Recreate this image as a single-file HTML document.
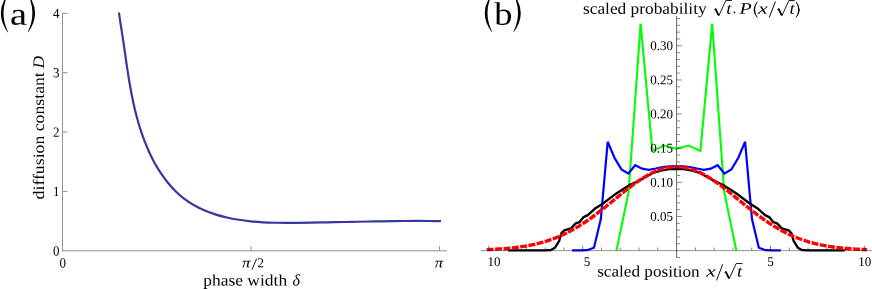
<!DOCTYPE html>
<html><head><meta charset="utf-8"><title>figure</title>
<style>html,body{margin:0;padding:0;background:#fff;}body{width:872px;height:289px;overflow:hidden;font-family:"Liberation Serif",serif;}svg{display:block;will-change:transform;}text{font-family:"Liberation Serif",serif;fill:#000;}.it{font-style:italic;}</style>
</head><body>
<svg width="872" height="289" viewBox="0 0 872 289">
<rect width="872" height="289" fill="#fff"/>
<g stroke="#929292" stroke-width="1" fill="none" shape-rendering="auto">
<path d="M62.50,12.80 V251.30"/>
<path d="M62.00,250.80 H447.00"/>
<path d="M62.50,191.43 h5"/>
<path d="M62.50,132.05 h5"/>
<path d="M62.50,72.68 h5"/>
<path d="M62.50,13.30 h5"/>
<path d="M251.00,250.80 v-4.5"/>
<path d="M439.50,250.80 v-4.5"/>
</g>
<text transform="translate(59.60,255.40) rotate(0.03) scale(1,1.070)" font-size="13" text-anchor="end">0</text>
<text transform="translate(59.60,196.03) rotate(0.03) scale(1,1.070)" font-size="13" text-anchor="end">1</text>
<text transform="translate(59.60,136.65) rotate(0.03) scale(1,1.070)" font-size="13" text-anchor="end">2</text>
<text transform="translate(59.60,77.28) rotate(0.03) scale(1,1.070)" font-size="13" text-anchor="end">3</text>
<text transform="translate(59.60,17.90) rotate(0.03) scale(1,1.070)" font-size="13" text-anchor="end">4</text>
<text transform="translate(62.80,267.40) rotate(0.03) scale(1,1.070)" font-size="13" text-anchor="middle">0</text>
<text transform="rotate(0.03 242.0 267.2)" x="242.0" y="267.2" font-size="14" class="it" textLength="8.4" lengthAdjust="spacingAndGlyphs">π</text>
<path d="M251.9,269.8 L256.6,258.6" stroke="#000" stroke-width="0.9" fill="none"/>
<text transform="rotate(0.03 257.2 267.2)" x="257.2" y="267.2" font-size="13.5">2</text>
<text transform="rotate(0.03 434.8 267.2)" x="434.8" y="267.2" font-size="14" class="it" textLength="8.4" lengthAdjust="spacingAndGlyphs">π</text>
<text transform="rotate(0.03 203.3 285.4)" x="203.3" y="285.4" font-size="16" textLength="83.8" lengthAdjust="spacingAndGlyphs">phase width</text>
<text transform="rotate(0.03 292.6 285.4)" x="292.6" y="285.4" font-size="16" class="it">δ</text>
<g transform="translate(44.0,199.4) rotate(-90)"><text transform="rotate(0.03 0 0)" x="0" y="0" font-size="16" textLength="127.2" lengthAdjust="spacingAndGlyphs">diffusion constant</text><text transform="rotate(0.03 130.8 0)" x="130.8" y="0" font-size="16" class="it" textLength="12.6" lengthAdjust="spacingAndGlyphs">D</text></g>
<path d="M118.50,12.10 C118.79,14.05 119.65,19.95 120.25,23.83 C120.85,27.71 121.49,31.53 122.08,35.41 C122.67,39.29 123.23,43.20 123.80,47.12 C124.37,51.03 124.91,54.97 125.49,58.90 C126.07,62.83 126.65,66.78 127.26,70.72 C127.87,74.66 128.49,78.61 129.17,82.54 C129.85,86.47 130.55,90.41 131.32,94.32 C132.09,98.23 132.90,102.15 133.79,106.03 C134.68,109.91 135.62,113.78 136.66,117.62 C137.70,121.46 138.82,125.28 140.04,129.06 C141.26,132.84 142.56,136.60 143.99,140.31 C145.42,144.02 146.95,147.71 148.61,151.33 C150.27,154.95 152.05,158.56 153.97,162.05 C155.89,165.54 157.93,168.99 160.12,172.29 C162.31,175.59 164.63,178.82 167.10,181.87 C169.57,184.92 172.17,187.86 174.93,190.58 C177.69,193.31 180.60,195.88 183.67,198.22 C186.73,200.56 189.97,202.69 193.32,204.63 C196.67,206.56 200.19,208.28 203.78,209.83 C207.38,211.38 211.11,212.74 214.89,213.95 C218.67,215.16 222.56,216.19 226.47,217.09 C230.38,218.00 234.37,218.74 238.35,219.38 C242.33,220.02 246.38,220.52 250.38,220.94 C254.38,221.36 258.39,221.65 262.38,221.88 C266.37,222.11 270.35,222.24 274.33,222.34 C278.31,222.44 282.27,222.45 286.23,222.46 C290.19,222.47 294.15,222.43 298.10,222.39 C302.05,222.35 306.00,222.30 309.95,222.24 C313.90,222.18 317.84,222.11 321.78,222.04 C325.72,221.97 329.67,221.90 333.61,221.82 C337.55,221.74 341.49,221.66 345.43,221.58 C349.37,221.50 353.31,221.41 357.25,221.33 C361.19,221.25 365.13,221.17 369.08,221.10 C373.03,221.03 376.98,220.95 380.93,220.89 C384.88,220.83 388.84,220.77 392.80,220.73 C396.76,220.69 400.73,220.65 404.70,220.62 C408.67,220.59 412.65,220.57 416.64,220.57 C420.62,220.57 424.61,220.58 428.61,220.61 C432.61,220.64 438.63,220.73 440.63,220.75" fill="none" stroke="#3a389e" stroke-width="2.2" transform="translate(0.4,0.4)" stroke-linecap="butt" stroke-linejoin="round"/>
<path d="M6.9,-4.6 Q-5.7,14 7.9,32.5 L8.1,32.1 Q-0.7,14 7.3,-4.3 Z" fill="#000"/>
<path d="M29.0,-4.6 Q41.6,14 28.0,32.5 L27.8,32.1 Q36.6,14 28.6,-4.3 Z" fill="#000"/>
<text transform="rotate(0.03 9.9 24.8)" x="9.9" y="24.8" font-size="32" textLength="17.0" lengthAdjust="spacingAndGlyphs">a</text>
<path d="M616.50,250.40 L628.60,192.00 L640.60,23.70 L652.40,151.00 L664.20,145.50 L676.40,148.70 L688.60,145.50 L700.40,151.00 L712.20,23.70 L724.20,192.00 L736.30,250.40" fill="none" stroke="#00ff00" stroke-width="2.1" stroke-linejoin="miter" stroke-miterlimit="3.3"/>
<path d="M572.00,250.40 L580.22,250.40 L587.09,250.20 L593.96,247.70 L600.83,219.00 L607.70,141.80 L614.57,158.00 L621.44,169.40 L628.31,173.50 L635.18,165.20 L642.05,168.70 L648.92,169.80 L655.79,168.50 L662.66,167.00 L669.53,166.40 L676.40,166.40 L683.27,166.40 L690.14,167.00 L697.01,168.50 L703.88,169.80 L710.75,168.70 L717.62,165.20 L724.49,173.50 L731.36,169.40 L738.23,158.00 L745.10,141.80 L751.97,219.00 L758.84,247.70 L765.71,250.20 L772.58,250.40 L780.80,250.40" fill="none" stroke="#0000ff" stroke-width="2.2" stroke-linejoin="miter" stroke-miterlimit="3.3"/>
<path d="M508.00,250.40 L545.30,250.40 L550.90,250.00 L555.00,247.70 L559.20,240.80 L561.30,233.40 L564.20,230.30 L571.10,228.40 L575.70,223.40 L579.40,222.20 L583.60,217.10 L587.80,215.10 L594.70,208.80 L602.30,204.00 L612.70,196.20 L616.70,193.30 L630.10,184.80 L639.80,180.20 L653.70,172.60 L662.00,170.30 L669.40,169.10 L676.40,168.80 L683.40,169.10 L690.80,170.30 L699.10,172.60 L713.00,180.20 L722.70,184.80 L736.10,193.30 L740.10,196.20 L750.50,204.00 L758.10,208.80 L765.00,215.10 L769.20,217.10 L773.40,222.20 L777.10,223.40 L781.70,228.40 L788.60,230.30 L791.50,233.40 L793.60,240.80 L797.80,247.70 L801.90,250.00 L807.50,250.40 L844.80,250.40" fill="none" stroke="#000" stroke-width="2.3" stroke-linejoin="round"/>
<path d="M486.72,249.63 L489.54,249.51 L492.36,249.38 L495.17,249.24 L497.99,249.07 L500.81,248.89 L503.62,248.68 L506.44,248.45 L509.26,248.20 L512.08,247.91 L514.89,247.60 L517.71,247.25 L520.53,246.86 L523.34,246.44 L526.16,245.97 L528.98,245.46 L531.79,244.90 L534.61,244.29 L537.43,243.63 L540.25,242.91 L543.06,242.13 L545.88,241.29 L548.70,240.39 L551.51,239.41 L554.33,238.37 L557.15,237.26 L559.96,236.07 L562.78,234.81 L565.60,233.47 L568.42,232.06 L571.23,230.57 L574.05,229.00 L576.87,227.36 L579.68,225.64 L582.50,223.84 L585.32,221.98 L588.13,220.05 L590.95,218.05 L593.77,216.00 L596.59,213.88 L599.40,211.72 L602.22,209.52 L605.04,207.28 L607.85,205.01 L610.67,202.71 L613.49,200.41 L616.30,198.10 L619.12,195.80 L621.94,193.52 L624.76,191.26 L627.57,189.04 L630.39,186.87 L633.21,184.76 L636.02,182.72 L638.84,180.75 L641.66,178.88 L644.47,177.11 L647.29,175.45 L650.11,173.92 L652.93,172.51 L655.74,171.24 L658.56,170.11 L661.38,169.14 L664.19,168.32 L667.01,167.67 L669.83,167.18 L672.64,166.87 L675.46,166.72 L678.28,166.75 L681.10,166.95 L683.91,167.33 L686.73,167.87 L689.55,168.57 L692.36,169.44 L695.18,170.47 L698.00,171.64 L700.81,172.96 L703.63,174.41 L706.45,175.99 L709.27,177.69 L712.08,179.50 L714.90,181.40 L717.72,183.39 L720.53,185.46 L723.35,187.59 L726.17,189.78 L728.98,192.01 L731.80,194.28 L734.62,196.57 L737.44,198.87 L740.25,201.18 L743.07,203.48 L745.89,205.76 L748.70,208.03 L751.52,210.26 L754.34,212.45 L757.15,214.59 L759.97,216.69 L762.79,218.72 L765.61,220.70 L768.42,222.61 L771.24,224.45 L774.06,226.22 L776.87,227.91 L779.69,229.53 L782.51,231.07 L785.32,232.54 L788.14,233.93 L790.96,235.24 L793.78,236.48 L796.59,237.64 L799.41,238.73 L802.23,239.75 L805.04,240.69 L807.86,241.58 L810.68,242.40 L813.49,243.15 L816.31,243.85 L819.13,244.50 L821.95,245.09 L824.76,245.63 L827.58,246.13 L830.40,246.58 L833.21,246.99 L836.03,247.37 L838.85,247.70 L841.66,248.01 L844.48,248.28 L847.30,248.53 L850.12,248.75 L852.93,248.95 L855.75,249.13 L858.57,249.29 L861.38,249.43 L864.20,249.55 L867.02,249.66" fill="none" stroke="#ff0000" stroke-width="3.4" stroke-dasharray="6.9 1.5" stroke-linejoin="round"/>
<g fill="none">
<path d="M676.6,16.12 V257.73" stroke="#000" stroke-opacity="0.6" stroke-width="1"/>
<path d="M481,250.6 H872" stroke="#000" stroke-opacity="0.48" stroke-width="0.9"/>
<path d="M677,257.43 h3.1" stroke="#000" stroke-opacity="0.62" stroke-width="0.75"/>
<path d="M677,243.77 h3.1" stroke="#000" stroke-opacity="0.62" stroke-width="0.75"/>
<path d="M677,236.95 h3.1" stroke="#000" stroke-opacity="0.62" stroke-width="0.75"/>
<path d="M677,230.12 h3.1" stroke="#000" stroke-opacity="0.62" stroke-width="0.75"/>
<path d="M677,223.30 h3.1" stroke="#000" stroke-opacity="0.62" stroke-width="0.75"/>
<path d="M677,216.47 h4.9" stroke="#000" stroke-opacity="0.62" stroke-width="0.75"/>
<path d="M677,209.64 h3.1" stroke="#000" stroke-opacity="0.62" stroke-width="0.75"/>
<path d="M677,202.82 h3.1" stroke="#000" stroke-opacity="0.62" stroke-width="0.75"/>
<path d="M677,195.99 h3.1" stroke="#000" stroke-opacity="0.62" stroke-width="0.75"/>
<path d="M677,189.17 h3.1" stroke="#000" stroke-opacity="0.62" stroke-width="0.75"/>
<path d="M677,182.34 h4.9" stroke="#000" stroke-opacity="0.62" stroke-width="0.75"/>
<path d="M677,175.51 h3.1" stroke="#000" stroke-opacity="0.62" stroke-width="0.75"/>
<path d="M677,168.69 h3.1" stroke="#000" stroke-opacity="0.62" stroke-width="0.75"/>
<path d="M677,161.86 h3.1" stroke="#000" stroke-opacity="0.62" stroke-width="0.75"/>
<path d="M677,155.04 h3.1" stroke="#000" stroke-opacity="0.62" stroke-width="0.75"/>
<path d="M677,148.21 h4.9" stroke="#000" stroke-opacity="0.62" stroke-width="0.75"/>
<path d="M677,141.38 h3.1" stroke="#000" stroke-opacity="0.62" stroke-width="0.75"/>
<path d="M677,134.56 h3.1" stroke="#000" stroke-opacity="0.62" stroke-width="0.75"/>
<path d="M677,127.73 h3.1" stroke="#000" stroke-opacity="0.62" stroke-width="0.75"/>
<path d="M677,120.91 h3.1" stroke="#000" stroke-opacity="0.62" stroke-width="0.75"/>
<path d="M677,114.08 h4.9" stroke="#000" stroke-opacity="0.62" stroke-width="0.75"/>
<path d="M677,107.25 h3.1" stroke="#000" stroke-opacity="0.62" stroke-width="0.75"/>
<path d="M677,100.43 h3.1" stroke="#000" stroke-opacity="0.62" stroke-width="0.75"/>
<path d="M677,93.60 h3.1" stroke="#000" stroke-opacity="0.62" stroke-width="0.75"/>
<path d="M677,86.78 h3.1" stroke="#000" stroke-opacity="0.62" stroke-width="0.75"/>
<path d="M677,79.95 h4.9" stroke="#000" stroke-opacity="0.62" stroke-width="0.75"/>
<path d="M677,73.12 h3.1" stroke="#000" stroke-opacity="0.62" stroke-width="0.75"/>
<path d="M677,66.30 h3.1" stroke="#000" stroke-opacity="0.62" stroke-width="0.75"/>
<path d="M677,59.47 h3.1" stroke="#000" stroke-opacity="0.62" stroke-width="0.75"/>
<path d="M677,52.65 h3.1" stroke="#000" stroke-opacity="0.62" stroke-width="0.75"/>
<path d="M677,45.82 h4.9" stroke="#000" stroke-opacity="0.62" stroke-width="0.75"/>
<path d="M677,38.99 h3.1" stroke="#000" stroke-opacity="0.62" stroke-width="0.75"/>
<path d="M677,32.17 h3.1" stroke="#000" stroke-opacity="0.62" stroke-width="0.75"/>
<path d="M677,25.34 h3.1" stroke="#000" stroke-opacity="0.62" stroke-width="0.75"/>
<path d="M677,18.52 h3.1" stroke="#000" stroke-opacity="0.62" stroke-width="0.75"/>
<path d="M488.80,250.3 v-4.6" stroke="#000" stroke-opacity="0.62" stroke-width="0.8"/>
<path d="M507.58,250.3 v-2.8" stroke="#000" stroke-opacity="0.62" stroke-width="0.8"/>
<path d="M526.36,250.3 v-2.8" stroke="#000" stroke-opacity="0.62" stroke-width="0.8"/>
<path d="M545.14,250.3 v-2.8" stroke="#000" stroke-opacity="0.62" stroke-width="0.8"/>
<path d="M563.92,250.3 v-2.8" stroke="#000" stroke-opacity="0.62" stroke-width="0.8"/>
<path d="M582.70,250.3 v-4.6" stroke="#000" stroke-opacity="0.62" stroke-width="0.8"/>
<path d="M601.48,250.3 v-2.8" stroke="#000" stroke-opacity="0.62" stroke-width="0.8"/>
<path d="M620.26,250.3 v-2.8" stroke="#000" stroke-opacity="0.62" stroke-width="0.8"/>
<path d="M639.04,250.3 v-2.8" stroke="#000" stroke-opacity="0.62" stroke-width="0.8"/>
<path d="M657.82,250.3 v-2.8" stroke="#000" stroke-opacity="0.62" stroke-width="0.8"/>
<path d="M695.38,250.3 v-2.8" stroke="#000" stroke-opacity="0.62" stroke-width="0.8"/>
<path d="M714.16,250.3 v-2.8" stroke="#000" stroke-opacity="0.62" stroke-width="0.8"/>
<path d="M732.94,250.3 v-2.8" stroke="#000" stroke-opacity="0.62" stroke-width="0.8"/>
<path d="M751.72,250.3 v-2.8" stroke="#000" stroke-opacity="0.62" stroke-width="0.8"/>
<path d="M770.50,250.3 v-4.6" stroke="#000" stroke-opacity="0.62" stroke-width="0.8"/>
<path d="M789.28,250.3 v-2.8" stroke="#000" stroke-opacity="0.62" stroke-width="0.8"/>
<path d="M808.06,250.3 v-2.8" stroke="#000" stroke-opacity="0.62" stroke-width="0.8"/>
<path d="M826.84,250.3 v-2.8" stroke="#000" stroke-opacity="0.62" stroke-width="0.8"/>
<path d="M845.62,250.3 v-2.8" stroke="#000" stroke-opacity="0.62" stroke-width="0.8"/>
<path d="M864.40,250.3 v-4.6" stroke="#000" stroke-opacity="0.62" stroke-width="0.8"/>
</g>
<text transform="translate(673.00,220.77) rotate(0.03) scale(1,1.020)" font-size="13" text-anchor="end">0.05</text>
<text transform="translate(673.00,186.64) rotate(0.03) scale(1,1.020)" font-size="13" text-anchor="end">0.10</text>
<text transform="translate(673.00,152.51) rotate(0.03) scale(1,1.020)" font-size="13" text-anchor="end">0.15</text>
<text transform="translate(673.00,118.38) rotate(0.03) scale(1,1.020)" font-size="13" text-anchor="end">0.20</text>
<text transform="translate(673.00,84.25) rotate(0.03) scale(1,1.020)" font-size="13" text-anchor="end">0.25</text>
<text transform="translate(673.00,50.12) rotate(0.03) scale(1,1.020)" font-size="13" text-anchor="end">0.30</text>
<text transform="translate(487.60,266.00) rotate(0.03) scale(1,1.020)" font-size="13" text-anchor="start">10</text>
<text transform="translate(583.80,266.00) rotate(0.03) scale(1,1.020)" font-size="13" text-anchor="start">5</text>
<text transform="translate(770.50,266.00) rotate(0.03) scale(1,1.020)" font-size="13" text-anchor="middle">5</text>
<text transform="translate(864.70,266.00) rotate(0.03) scale(1,1.020)" font-size="13" text-anchor="middle">10</text>
<text transform="rotate(0.03 583.0 13.7)" x="583.0" y="13.7" font-size="16" textLength="123.6" lengthAdjust="spacingAndGlyphs">scaled probability</text>
<path d="M714.2,9.6 L715.7,8.6 L718.9,15.6 L725.8,0.5 H731.9" stroke="#000" fill="none" stroke-linejoin="miter" stroke-linecap="butt" stroke-width="0.9"/>
<path d="M715.4,8.8 L718.6,15.4" stroke="#000" fill="none" stroke-linejoin="miter" stroke-linecap="butt" stroke-width="1.7"/>
<text transform="rotate(0.03 726.2 13.7)" x="726.2" y="13.7" font-size="16" class="it" textLength="5.2" lengthAdjust="spacingAndGlyphs">t</text>
<circle cx="734.5" cy="12.4" r="0.85" fill="#000"/>
<text transform="rotate(0.03 739.6 13.7)" x="739.6" y="13.7" font-size="16" class="it" textLength="12.2" lengthAdjust="spacingAndGlyphs">P</text>
<path d="M757.3,1.3 Q749.9,9.6 757.3,17.9 L757.7,17.5 Q752.6,9.6 757.7,1.7 Z" fill="#000"/>
<text transform="rotate(0.03 758.0 13.7)" x="758.0" y="13.7" font-size="16" class="it" textLength="9.8" lengthAdjust="spacingAndGlyphs">x</text>
<path d="M769.2,17.7 L775.4,1.5" stroke="#000" stroke-width="0.95" fill="none"/>
<path d="M777.3,9.6 L778.8,8.6 L782.0,15.6 L788.9,0.5 H794.7" stroke="#000" fill="none" stroke-linejoin="miter" stroke-linecap="butt" stroke-width="0.9"/>
<path d="M778.5,8.8 L781.7,15.4" stroke="#000" fill="none" stroke-linejoin="miter" stroke-linecap="butt" stroke-width="1.7"/>
<text transform="rotate(0.03 789.4 13.7)" x="789.4" y="13.7" font-size="16" class="it" textLength="5.2" lengthAdjust="spacingAndGlyphs">t</text>
<path d="M796.0,1.3 Q803.4,9.6 796.0,17.9 L795.6,17.5 Q800.7,9.6 795.6,1.7 Z" fill="#000"/>
<text transform="rotate(0.03 597.2 276.6)" x="597.2" y="276.6" font-size="16" textLength="102.4" lengthAdjust="spacingAndGlyphs">scaled position</text>
<text transform="rotate(0.03 706.2 276.6)" x="706.2" y="276.6" font-size="16" class="it" textLength="9.6" lengthAdjust="spacingAndGlyphs">x</text>
<path d="M716.5,280.4 L722.7,264.4" stroke="#000" stroke-width="0.95" fill="none"/>
<path d="M724.5,272.5 L726.0,271.5 L729.2,278.6 L736.2,263.5 H742.4" stroke="#000" fill="none" stroke-linejoin="miter" stroke-linecap="butt" stroke-width="0.9"/>
<path d="M725.7,271.7 L728.9,278.4" stroke="#000" fill="none" stroke-linejoin="miter" stroke-linecap="butt" stroke-width="1.7"/>
<text transform="rotate(0.03 737.0 276.6)" x="737.0" y="276.6" font-size="16" class="it" textLength="5.2" lengthAdjust="spacingAndGlyphs">t</text>
<path d="M490.9,-4.6 Q478.1,14 491.9,32.2 L492.1,31.8 Q483.3,14 491.3,-4.3 Z" fill="#000"/>
<path d="M514.6,-4.6 Q527.4,14 513.6,32.2 L513.4,31.8 Q522.2,14 514.2,-4.3 Z" fill="#000"/>
<text transform="rotate(0.03 494.3 24.7)" x="494.3" y="24.7" font-size="32.6" textLength="18.2" lengthAdjust="spacingAndGlyphs">b</text>
</svg></body></html>
